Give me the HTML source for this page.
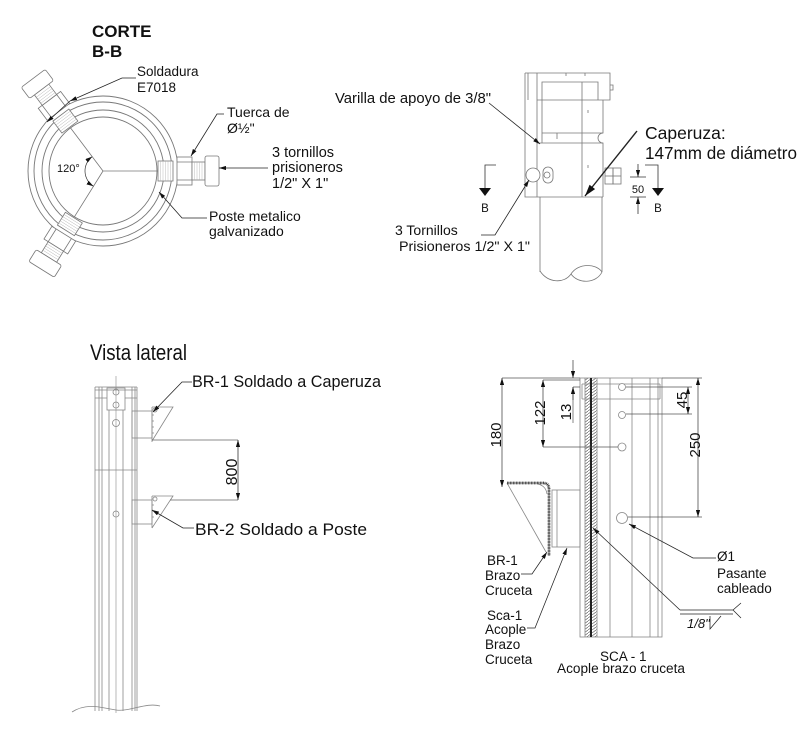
<!DOCTYPE html>
<html><head><meta charset="utf-8">
<style>
html,body{margin:0;padding:0;background:#fff;width:800px;height:730px;overflow:hidden}
svg{display:block}
text{font-family:"Liberation Sans",Arial,sans-serif;fill:#111}
</style></head><body>
<svg width="800" height="730" viewBox="0 0 800 730" xmlns="http://www.w3.org/2000/svg">
<defs>
<marker id="a" viewBox="0 0 10 6" refX="10" refY="3" markerWidth="7" markerHeight="4.2" markerUnits="userSpaceOnUse" orient="auto-start-reverse"><path d="M0,0L10,3L0,6z" fill="#111"/></marker>
<marker id="b" viewBox="0 0 10 6" refX="10" refY="3" markerWidth="12" markerHeight="7" markerUnits="userSpaceOnUse" orient="auto"><path d="M0,0L10,3L0,6z" fill="#111"/></marker>
<pattern id="hz" width="4" height="3" patternUnits="userSpaceOnUse"><path d="M0,3L4,0" stroke="#666" stroke-width="0.7"/></pattern>
<g id="bolt" stroke="#777" stroke-width="0.8" fill="#fff">
<rect x="55" y="-10" width="15" height="20"/>
<path d="M57.5,-10V10M60,-10V10M62.5,-10V10M65,-10V10M67.5,-10V10" stroke-width="0.4" stroke="#aaa"/>
<rect x="74" y="-14" width="15" height="28"/>
<path d="M74,-9H89M74,9H89" fill="none"/>
<rect x="89" y="-9" width="13" height="18"/>
<path d="M91.5,-9V9M94,-9V9M96.5,-9V9M99,-9V9" stroke-width="0.4" stroke="#aaa"/>
<rect x="102" y="-15" width="14" height="30" rx="2"/>
</g>
</defs>

<!-- ===== CORTE B-B ===== -->
<text x="92" y="37" font-size="17" font-weight="bold">CORTE</text>
<text x="92" y="57" font-size="17" font-weight="bold">B-B</text>
<text x="137" y="76" font-size="13.5">Soldadura</text>
<text x="137" y="92" font-size="13.5">E7018</text>

<g fill="none" stroke="#777" stroke-width="0.9">
<circle cx="103" cy="171" r="75"/>
<circle cx="103" cy="171" r="69"/>
<circle cx="103" cy="171" r="61"/>
<circle cx="103" cy="171" r="54"/>
<path d="M103,171H158M103,171L70.5,127.9M103,171L74.4,216.8" stroke-width="0.8"/>
</g>
<use href="#bolt" transform="translate(103,171)"/>
<use href="#bolt" transform="translate(103,171) rotate(-127)"/>
<use href="#bolt" transform="translate(103,171) rotate(122)"/>
<path d="M92.2,156.6 A18,18 0 0 0 93.5,186.3" fill="none" stroke="#333" stroke-width="0.7" marker-start="url(#a)" marker-end="url(#a)"/>
<text x="57" y="172" font-size="11">120°</text>

<g fill="none" stroke="#222" stroke-width="0.8">
<polyline points="136,78 122,78 70,101" marker-end="url(#a)"/>
<line x1="70" y1="101" x2="47" y2="122" marker-end="url(#a)"/>
<polyline points="224,114 217,114 191,156" marker-end="url(#a)"/>
<line x1="268" y1="168" x2="219" y2="168" marker-end="url(#a)"/>
<polyline points="207,218 182,218 159,192" marker-end="url(#a)"/>
</g>
<text x="227" y="117" font-size="14">Tuerca de</text>
<text x="227" y="133" font-size="14">Ø½"</text>
<text x="272" y="157" font-size="14.5">3 tornillos</text>
<text x="272" y="172" font-size="14.5">prisioneros</text>
<text x="272" y="188" font-size="14.5">1/2" X 1"</text>
<text x="209" y="221" font-size="14">Poste metalico</text>
<text x="209" y="236" font-size="14">galvanizado</text>

<!-- ===== Caperuza elevation ===== -->
<g fill="none" stroke="#777" stroke-width="0.8">
<path d="M525,73H610V100H537"/>
<path d="M610,85h3v5h-3"/>
<path d="M528,73V100"/>
<path d="M525,73V197H603"/>
<path d="M537,73V197"/>
<path d="M603,100V133A5,5 0 0 0 603,143V197"/>
<path d="M542,100V82H598V100"/>
<path d="M542,100V143"/>
<path d="M542,133H603M537,143H603"/>
<path d="M582,82V197"/>
<path d="M566,73v3M585,73v3M557,133v6M588,110v3M588,165v3"/>
<path d="M540,197V272M602,197V272"/>
<path d="M540,271C548,283 564,284 571,274C578,263 596,263 602,272"/>
<path d="M571,274C578,284 596,284 602,272"/>
<circle cx="533" cy="175" r="7" fill="#fff"/>
<rect x="543" y="167" width="10" height="16" rx="5" fill="#fff"/>
<circle cx="547" cy="175" r="3"/>
<rect x="605" y="168" width="8" height="16"/>
<rect x="613" y="168" width="8" height="16"/>
<path d="M605,176H621"/>
</g>
<g fill="none" stroke="#222" stroke-width="0.8">
<line x1="489" y1="103" x2="540" y2="144" marker-end="url(#a)"/>
<polyline points="481,235 495,235 529,180" marker-end="url(#a)"/>
<line x1="637" y1="131" x2="585" y2="196" stroke-width="1.4" marker-end="url(#b)"/>
</g>
<text x="335" y="103" font-size="14.5" textLength="156" lengthAdjust="spacingAndGlyphs">Varilla de apoyo de 3/8"</text>
<text x="645" y="139" font-size="17.5">Caperuza:</text>
<text x="645" y="159" font-size="17.5" textLength="152" lengthAdjust="spacingAndGlyphs">147mm de diámetro</text>
<text x="395" y="235" font-size="14">3 Tornillos</text>
<text x="399" y="251" font-size="14" textLength="131" lengthAdjust="spacingAndGlyphs">Prisioneros 1/2" X 1"</text>

<!-- section marks B -->
<g fill="none" stroke="#333" stroke-width="0.8">
<path d="M496,165H485V188"/>
<path d="M645,165H658V188"/>
<path d="M630,177H646M630,197H646"/>
<line x1="638" y1="164" x2="638" y2="177" marker-end="url(#a)"/>
<line x1="638" y1="214" x2="638" y2="197" marker-end="url(#a)"/>
</g>
<path d="M479,188H491L485,196z" fill="#111"/>
<path d="M652,188H664L658,196z" fill="#111"/>
<text x="485" y="212" font-size="11.5" text-anchor="middle">B</text>
<text x="658" y="212" font-size="11.5" text-anchor="middle">B</text>
<text x="638" y="193" font-size="11" text-anchor="middle">50</text>

<!-- ===== Vista lateral ===== -->
<text x="90" y="360" font-size="22" font-family="'Liberation Sans Narrow','Liberation Sans',sans-serif" textLength="97" lengthAdjust="spacingAndGlyphs">Vista lateral</text>
<g fill="none" stroke="#888" stroke-width="0.8">
<path d="M95,387H137M95,390H137M95,398H107M125,398H137"/>
<path d="M95,387V711M99,387V711M102,387V711M109,410V711M123,410V711M132,387V711M135,387V711M137,387V711"/>
<path d="M116,376V713" stroke-width="0.6"/>
<rect x="107" y="388" width="18" height="22"/>
<path d="M95,470H137"/>
<circle cx="116" cy="392" r="3"/>
<circle cx="116" cy="405" r="3"/>
<circle cx="116" cy="423" r="3.5"/>
<circle cx="116" cy="514" r="3"/>
<path d="M72,712C88,702 102,708 116,710C130,712 146,702 160,706"/>
<rect x="132" y="411" width="20" height="27"/>
<path d="M152,407V442M152,407H173L152,441"/>
<path d="M152,415h2M152,421h2M152,427h2M152,433h2"/>
<circle cx="155" cy="410" r="2"/>
<rect x="132" y="500" width="20" height="24"/>
<path d="M152,496V528M152,496H173L152,528"/>
<path d="M152,505h2M152,511h2M152,517h2"/>
<circle cx="155" cy="499" r="2"/>
<path d="M152,440H238M170,500H238" stroke="#666"/>
</g>
<line x1="238" y1="470" x2="238" y2="440" stroke="#333" stroke-width="0.8" marker-end="url(#a)"/>
<line x1="238" y1="470" x2="238" y2="500" stroke="#333" stroke-width="0.8" marker-end="url(#a)"/>
<text transform="translate(237,472) rotate(-90)" font-size="16" text-anchor="middle">800</text>
<g fill="none" stroke="#222" stroke-width="0.8">
<polyline points="192,382 182,382 153,412" marker-end="url(#a)"/>
<polyline points="194,528 183,528 152,510" marker-end="url(#a)"/>
</g>
<text x="192" y="387" font-size="17" textLength="189" lengthAdjust="spacingAndGlyphs">BR-1 Soldado a Caperuza</text>
<text x="195" y="535" font-size="17" textLength="172" lengthAdjust="spacingAndGlyphs">BR-2 Soldado a Poste</text>

<!-- ===== SCA-1 ===== -->
<g fill="none" stroke="#888" stroke-width="0.8">
<rect x="585" y="378" width="12" height="259" fill="url(#hz)" stroke="none"/>
<rect x="580" y="378" width="82" height="259"/>
<path d="M585,378V637M597,378V637M610,378V637M632,378V637M650,378V637M658,378V637"/>
<path d="M582,384H660M582,399H660M582,384V399M660,384V399"/>
<circle cx="622" cy="387" r="3.5" fill="#fff"/>
<circle cx="622" cy="415" r="3.5"/>
<circle cx="622" cy="447" r="4"/>
<circle cx="622" cy="518" r="5.5"/>
<rect x="552" y="490" width="28" height="57"/>
<path d="M557,490V547"/>
<path d="M507,483L546,552"/>
<path d="M538,484Q546,486 547,494"/>
</g>
<line x1="591" y1="378" x2="591" y2="637" stroke="#222" stroke-width="2"/>
<path d="M507,483H543Q549,483 549,489V556" stroke="#333" stroke-width="2.8" stroke-dasharray="0.8 0.7" fill="none"/>
<path d="M507,483H543Q549,483 549,489V556" stroke="#444" stroke-width="0.6" fill="none"/>

<g fill="none" stroke="#555" stroke-width="0.7">
<path d="M502,378H580M662,378H702"/>
<path d="M543,380H580"/>
<path d="M543,447H618"/>
<path d="M573,387V423M573,387H580"/>
<path d="M626,387H692M626,414H692"/>
<path d="M628,517H702"/>
</g>
<g stroke="#333" stroke-width="0.7" fill="none">
<line x1="502" y1="378" x2="502" y2="487" marker-start="url(#a)" marker-end="url(#a)"/>
<line x1="543" y1="380" x2="543" y2="447" marker-start="url(#a)" marker-end="url(#a)"/>
<line x1="573" y1="360" x2="573" y2="378" marker-end="url(#a)"/>
<line x1="573" y1="400" x2="573" y2="387" marker-end="url(#a)"/>
<line x1="688" y1="387" x2="688" y2="414" marker-start="url(#a)" marker-end="url(#a)"/>
<line x1="698" y1="378" x2="698" y2="517" marker-start="url(#a)" marker-end="url(#a)"/>
</g>
<text transform="translate(501,435) rotate(-90)" font-size="15" text-anchor="middle">180</text>
<text transform="translate(545,413) rotate(-90)" font-size="15" text-anchor="middle">122</text>
<text transform="translate(571,412) rotate(-90)" font-size="15" text-anchor="middle">13</text>
<text transform="translate(687,400) rotate(-90)" font-size="15" text-anchor="middle">45</text>
<text transform="translate(700,445) rotate(-90)" font-size="15" text-anchor="middle">250</text>

<g fill="none" stroke="#222" stroke-width="0.75">
<polyline points="521,574 532,574 547,552" marker-end="url(#a)"/>
<polyline points="527,628 535,628 567,548" marker-end="url(#a)"/>
<polyline points="716,558 693,558 629,524" marker-end="url(#a)"/>
<line x1="680" y1="610" x2="593" y2="528" marker-end="url(#a)"/>
<path d="M680,610H733M680,614H733M733,610L741,603M733,610L741,618"/>
<path d="M710,616V629L721,616"/>
</g>
<g font-size="13.5">
<text x="487" y="565">BR-1</text>
<text x="485" y="580">Brazo</text>
<text x="485" y="595">Cruceta</text>
<text x="487" y="620">Sca-1</text>
<text x="485" y="634">Acople</text>
<text x="485" y="649">Brazo</text>
<text x="485" y="664">Cruceta</text>
<text x="717" y="561">Ø1</text>
<text x="717" y="578">Pasante</text>
<text x="717" y="593">cableado</text>
<text x="600" y="661">SCA - 1</text>
<text x="557" y="673" textLength="128" lengthAdjust="spacingAndGlyphs">Acople brazo cruceta</text>
</g>
<text x="687" y="628" font-size="13" font-style="italic">1/8"</text>
</svg>
</body></html>
